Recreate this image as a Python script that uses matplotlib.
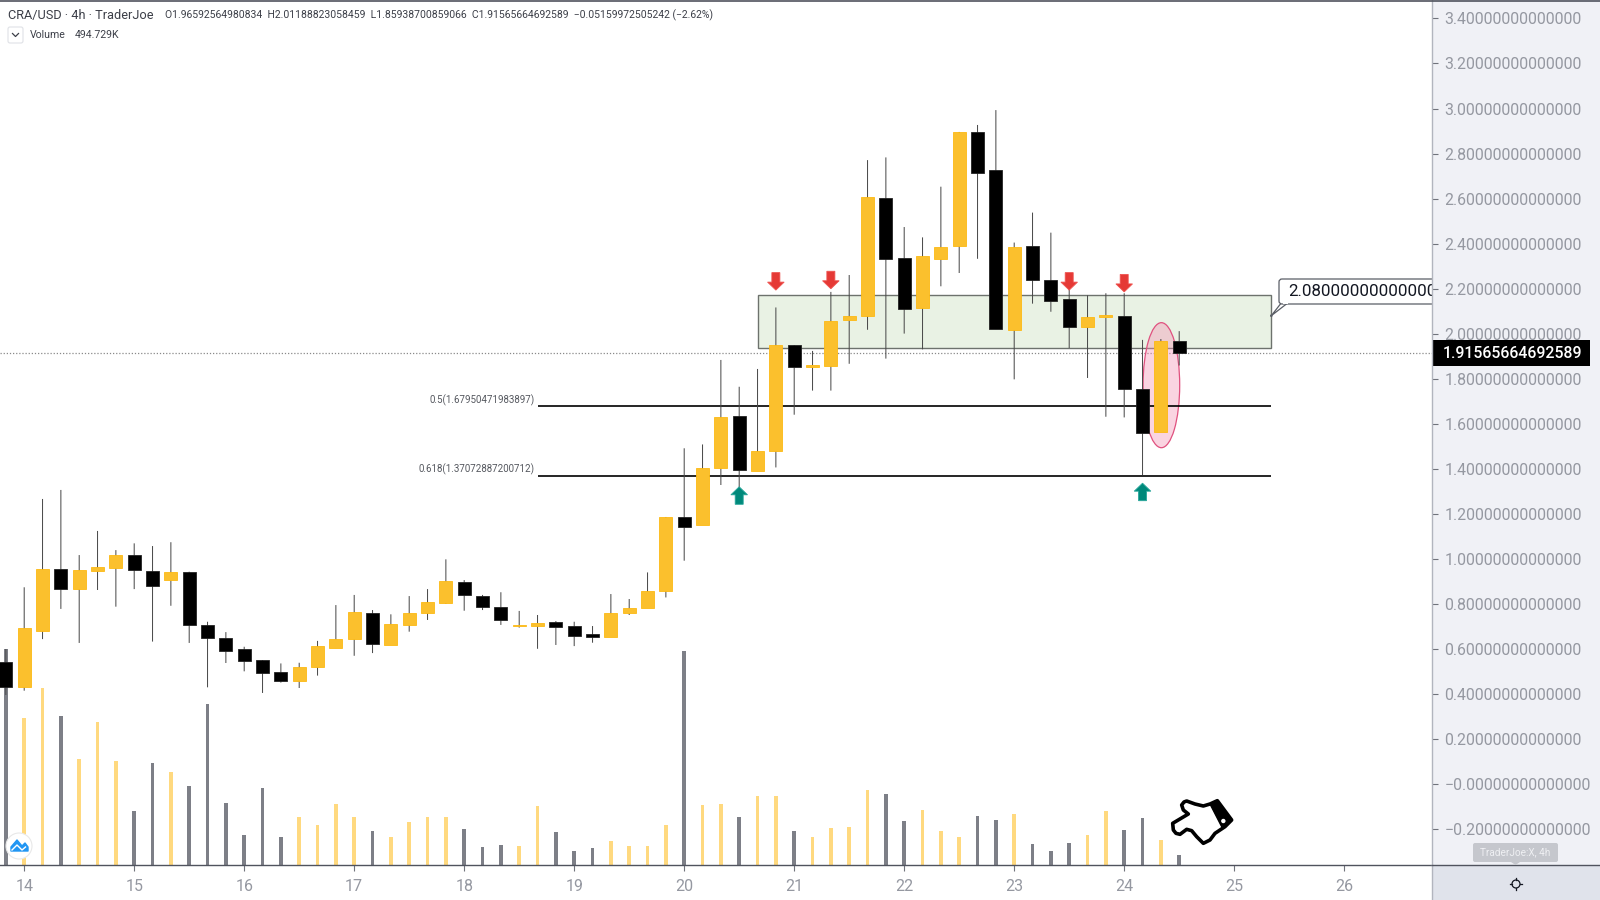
#!/usr/bin/env python3
# -*- coding: utf-8 -*-

import matplotlib
matplotlib.use('Agg')
import matplotlib.pyplot as plt
from matplotlib.patches import Rectangle, Ellipse, Polygon, Circle, FancyBboxPatch
from matplotlib.transforms import Affine2D, blended_transform_factory

plt.rcParams['font.family'] = ['Roboto', 'DejaVu Sans']

# 4h candles, first one is at day 13.83
first_day = 13 + 5 / 6

# body top, body bottom, high, low
body_top = [0.545, 0.696, 0.958, 0.958, 0.952, 0.966, 1.018, 1.018, 0.947, 0.944,
            0.944, 0.708, 0.651, 0.600, 0.552, 0.497, 0.521, 0.614, 0.645, 0.765,
            0.762, 0.710, 0.762, 0.810, 0.903, 0.898, 0.836, 0.787, 0.707, 0.718,
            0.722, 0.703, 0.666, 0.759, 0.784, 0.858, 1.187, 1.187, 1.406, 1.631,
            1.635, 1.480, 1.950, 1.950, 1.862, 2.057, 2.079, 2.607, 2.604, 2.338,
            2.345, 2.385, 2.896, 2.896, 2.727, 2.385, 2.390, 2.239, 2.153, 2.075,
            2.083, 2.079, 1.757, 1.968, 1.96592564980834]
body_bot = [0.431, 0.431, 0.682, 0.867, 0.867, 0.949, 0.961, 0.952, 0.882, 0.907,
            0.706, 0.650, 0.594, 0.549, 0.495, 0.460, 0.460, 0.521, 0.605, 0.647,
            0.623, 0.620, 0.709, 0.762, 0.807, 0.839, 0.786, 0.731, 0.702, 0.702,
            0.697, 0.660, 0.653, 0.656, 0.761, 0.783, 0.857, 1.143, 1.153, 1.406,
            1.396, 1.391, 1.480, 1.853, 1.853, 1.857, 2.063, 2.078, 2.332, 2.110,
            2.116, 2.334, 2.391, 2.714, 2.021, 2.018, 2.239, 2.144, 2.032, 2.032,
            2.075, 1.755, 1.560, 1.564, 1.91565664692589]
high = [0.601, 0.875, 1.267, 1.307, 1.018, 1.125, 1.040, 1.070, 1.058, 1.075,
        0.944, 0.722, 0.676, 0.611, 0.552, 0.537, 0.540, 0.637, 0.796, 0.841,
        0.774, 0.755, 0.836, 0.867, 0.999, 0.907, 0.841, 0.853, 0.770, 0.752,
        0.725, 0.722, 0.703, 0.845, 0.823, 0.941, 1.187, 1.492, 1.509, 1.884,
        1.765, 1.844, 2.117, 1.950, 1.924, 2.186, 2.261, 2.771, 2.783, 2.474,
        2.428, 2.653, 2.896, 2.927, 2.993, 2.405, 2.538, 2.449, 2.217, 2.171,
        2.180, 2.180, 1.973, 1.977, 2.01188823058459]
low = [0.397, 0.416, 0.645, 0.779, 0.628, 0.863, 0.789, 0.867, 0.634, 0.793,
       0.628, 0.431, 0.539, 0.502, 0.406, 0.452, 0.428, 0.483, 0.605, 0.571,
       0.583, 0.620, 0.678, 0.730, 0.801, 0.771, 0.774, 0.708, 0.696, 0.602,
       0.619, 0.614, 0.629, 0.656, 0.752, 0.783, 0.830, 0.993, 1.153, 1.329,
       1.285, 1.391, 1.407, 1.641, 1.748, 1.748, 1.867, 2.018, 1.890, 2.001,
       1.931, 2.211, 2.270, 2.333, 2.021, 1.798, 2.134, 2.098, 1.937, 1.804,
       1.632, 1.629, 1.373, 1.564, 1.85938700859066]
# 1 = yellow (up), 0 = black (down)
up = [0, 1, 1, 0, 1, 1, 1, 0, 0, 1,
      0, 0, 0, 0, 0, 0, 1, 1, 1, 1,
      0, 1, 1, 1, 1, 0, 0, 0, 1, 1,
      0, 0, 0, 1, 1, 1, 1, 0, 1, 1,
      0, 1, 1, 0, 1, 1, 1, 1, 0, 0,
      1, 1, 1, 0, 0, 1, 0, 0, 0, 1,
      1, 0, 0, 1, 0]
# volume in K
volume = [10384, 7056, 8496, 7168, 5088, 6880, 5008, 2576, 4896, 4448,
          3808, 7744, 2976, 1456, 3696, 1344, 2288, 1936, 2944, 2288,
          1616, 1328, 2064, 2288, 2288, 1728, 864, 976, 896, 2816,
          1584, 688, 816, 1136, 896, 928, 1936, 10288, 2896, 2944,
          2304, 3328, 3328, 1616, 1328, 1776, 1840, 3616, 3424, 2096,
          2656, 1648, 1344, 2368, 2176, 2464, 1024, 688, 1056, 1456,
          2608, 1696, 2256, 1216, 494.729]

price_ticks = [3.4, 3.2, 3.0, 2.8, 2.6, 2.4, 2.2, 2.0, 1.8, 1.6, 1.4, 1.2, 1.0,
               0.8, 0.6, 0.4, 0.2, 0.0, -0.2]
price_labels = ['3.40000000000000', '3.20000000000000', '3.00000000000000',
                '2.80000000000000', '2.60000000000000', '2.40000000000000',
                '2.20000000000000', '2.00000000000000', '1.80000000000000',
                '1.60000000000000', '1.40000000000000', '1.20000000000000',
                '1.00000000000000', '0.80000000000000', '0.60000000000000',
                '0.40000000000000', '0.20000000000000', '\u22120.00000000000000',
                '\u22120.20000000000000']
day_ticks = [14, 15, 16, 17, 18, 19, 20, 21, 22, 23, 24, 25, 26]

last_price = 1.91565664692589
fib_levels = [1.67950471983897, 1.37072887200712]
fib_labels = ['0.5(1.67950471983897)', '0.618(1.37072887200712)']
fib_start, fib_end = 20 + (538 - 684.2) / 110, 25.337
zone = [20.668, 25.337, 1.939, 2.171]  # day from, day to, price from, price to
# arrow tips
down_arrows = [(20.8333, 2.194), (21.3333, 2.200), (23.5, 2.194), (24.0, 2.186)]
up_arrows = [(20.5, 1.321), (24.1667, 1.337)]

PX_X = 1 / 110    # day per pixel
PX_Y = 1 / 225.3  # price per pixel
YELLOW = '#fbc02d'
TICK_COL = '#9598a1'
PANE = '#f0f1f6'

fig = plt.figure(figsize=(16, 9), dpi=100, facecolor='white')
# pixel coordinates with origin top left, for the icons and panes
px = Affine2D().scale(1 / 1600, -1 / 900).translate(0, 1) + fig.transFigure

fig.patches.append(Rectangle((1432, 0), 168, 900, transform=px, fc=PANE, ec='none'))
fig.patches.append(Rectangle((1432, 865), 168, 35, transform=px, fc='#e0e3eb', ec='none'))

pos = [0, 35 / 900, 1432 / 1600, 865 / 900]
ax_vol = fig.add_axes(pos, zorder=1)
ax = fig.add_axes(pos, zorder=2)
ax.patch.set_alpha(0)

x_lim = (14 - 24.2 / 110, 14 + (1432 - 24.2) / 110)
days = [first_day + i / 6 for i in range(len(up))]

# volume
ax_vol.bar(days, volume, width=0.032,
           color=['#ffd97f' if u else '#7d7f87' for u in up], linewidth=0)
ax_vol.set_xlim(x_lim)
ax_vol.set_ylim(0, 865 * 48)
ax_vol.axis('off')

# zone, ellipse, lines below the candles
ax.add_patch(Rectangle((zone[0], zone[2]), zone[1] - zone[0], zone[3] - zone[2],
                       fc='#e9f2e4', ec='#6d726d', lw=1, zorder=1))
ax.axhline(last_price, color='#8a8a8a', lw=0.9, ls=(0, (1, 1.5)), zorder=1.5)
ax.add_patch(Ellipse((24.338, 1.772), 0.333, 0.555, fc='#f48fb1', alpha=0.38, ec='none', zorder=2))
ax.add_patch(Ellipse((24.338, 1.772), 0.333, 0.555, fc='none', ec='#e0517f', lw=0.9, zorder=2))
for lev in fib_levels:
    ax.plot([fib_start, fib_end], [lev, lev], color='black', lw=1.2, zorder=2.2,
            solid_capstyle='butt')
for lab, lev in zip(fib_labels, fib_levels):
    ax.text(fib_start - 3.5 * PX_X, lev + 6 * PX_Y, lab, ha='right', va='center',
            fontsize=7.05, color='#55585f', zorder=3)

# candles
wicks = ax.vlines(days, low, high, color='#484848', lw=0.72, zorder=3)
wicks.set_snap(False)
cols = [YELLOW if u else 'black' for u in up]
edges = ['#fdb913' if u else '#222222' for u in up]
ax.bar(days, [t - b for t, b in zip(body_top, body_bot)], bottom=body_bot, width=0.118,
       color=cols, edgecolor=edges, linewidth=0.6, zorder=4)


def draw_arrow(day, tip, direction, fc, ec):
    # direction 1: tip on top, -1: tip at the bottom
    hw, sw, hh, total = 8.3 * PX_X, 4 * PX_X, 8 * PX_Y, 17.5 * PX_Y
    s = -direction
    pts = [(day, tip), (day + hw, tip + s * hh), (day + sw, tip + s * hh),
           (day + sw, tip + s * total), (day - sw, tip + s * total),
           (day - sw, tip + s * hh), (day - hw, tip + s * hh)]
    ax.add_patch(Polygon(pts, closed=True, fc=fc, ec=ec, lw=0.6, zorder=5))


for d, v in down_arrows:
    draw_arrow(d, v, -1, '#e53935', '#ef5350')
for d, v in up_arrows:
    draw_arrow(d, v, 1, '#00897b', '#26a69a')

# callout, cut off by the price pane
ax.add_patch(Polygon([(1282, 302), (1271.3, 315.7), (1289, 302)], closed=True,
                     transform=px, fc='white', ec='#5a5e66', lw=0.9, zorder=6))
ax.add_patch(FancyBboxPatch((1281, 281), 170, 21, boxstyle='round,pad=2,rounding_size=3',
                            transform=px, fc='white', ec='#5a5e66', lw=0.9, zorder=6))
ax.add_patch(Rectangle((1283, 301), 5, 3, transform=px, fc='white', ec='none', zorder=6.5))
ax.add_patch(Circle((1271.3, 315.7), 1.3, transform=px, fc='#5a5e66', ec='none', zorder=7))
ax.text(1288, 292, '2.08000000000000', transform=px, fontsize=12.2, color='#131722',
        ha='left', va='center', zorder=7, clip_on=True)

ax.set_xlim(x_lim)
ax.set_ylim(3.4 - (865 - 18.4) * PX_Y, 3.4 + 18.4 * PX_Y)
for name in ['top', 'left', 'right']:
    ax.spines[name].set_visible(False)
ax.spines['bottom'].set_color('#50535e')
ax.spines['bottom'].set_linewidth(1)

ax.yaxis.tick_right()
ax.set_yticks(price_ticks)
ax.set_yticklabels(price_labels)
ax.set_xticks(day_ticks)
ax.set_xticklabels(day_ticks)
ax.tick_params(axis='y', length=4, width=0.8, color='#70737c', labelcolor=TICK_COL,
               labelsize=11.4, pad=5)
ax.tick_params(axis='x', length=4, width=0.8, color='#70737c', labelcolor=TICK_COL,
               labelsize=11.5, pad=6)

# last price box on the axis
box_tr = blended_transform_factory(ax.transAxes, ax.transData)
ax.add_patch(Rectangle((1, last_price - 13 * PX_Y), 158 / 1432, 26 * PX_Y, transform=box_tr,
                       fc='black', ec='none', clip_on=False, zorder=8))
ax.text(1443, 353, '1.91565664692589', transform=px, color='white', fontsize=11.4,
        fontweight='medium', ha='left', va='center', zorder=9)

# everything from here on goes over the axes
TOP = 10

# pane borders
fig.add_artist(plt.Line2D([1432, 1432], [0, 900], transform=px, color='#b2b5be', lw=1, zorder=TOP))
fig.add_artist(plt.Line2D([1432, 1600], [865, 865], transform=px, color='#50535e', lw=1, zorder=TOP))
fig.add_artist(plt.Line2D([0, 1600], [0.5, 0.5], transform=px, color='#50535e', lw=1.2, zorder=TOP))

# header
fig.text(7.5 / 1600, 1 - 15.5 / 900, 'CRA/USD \u00b7 4h \u00b7 TraderJoe', fontsize=9.2,
         color='#3c3f48', ha='left', va='center')
fig.text(165 / 1600, 1 - 15.5 / 900,
         'O1.96592564980834  H2.01188823058459  L1.85938700859066  C1.91565664692589'
         '  \u22120.05159972505242 (\u22122.62%)',
         fontsize=7.45, color='#3c3f48', ha='left', va='center')
fig.text(30 / 1600, 1 - 35 / 900, 'Volume', fontsize=7.6, color='#3c3f48', ha='left', va='center')
fig.text(75 / 1600, 1 - 35 / 900, '494.729K', fontsize=7.6, color='#3c3f48', ha='left', va='center')
fig.add_artist(FancyBboxPatch((8, 27), 15, 16, boxstyle='round,pad=0,rounding_size=2', transform=px,
                              fc='white', ec='#dfe1e6', lw=0.8, zorder=TOP))
fig.add_artist(plt.Line2D([12.5, 15.5, 18.5], [33.5, 36.5, 33.5], transform=px,
                          color='#3c3f48', lw=0.9, zorder=TOP + 1))

# logo bottom left
fig.add_artist(Circle((19, 846), 13, transform=px, fc='white', ec='#e8e8e8', lw=0.8, zorder=TOP))
fig.add_artist(Polygon([(11, 851), (11, 847), (17, 840), (22, 846), (25, 843), (28, 847), (28, 851)],
                       closed=True, transform=px, fc='#2196f3', ec='#2196f3', lw=1,
                       joinstyle='round', zorder=TOP + 1))
fig.add_artist(plt.Line2D([12, 17, 22, 25.5], [850, 845, 850, 847], transform=px,
                          color='white', lw=1, zorder=TOP + 2))

# pointing hand
hand = [(65, 45), (72, 36), (80, 33), (105, 42), (130, 48), (150, 42), (172, 32), (215, 90), (195, 110),
        (165, 130), (150, 150), (130, 160), (110, 140), (95, 122), (80, 118), (60, 133), (48, 130),
        (40, 120), (38, 100), (85, 72), (70, 60)]
cuff = [(150, 42), (172, 32), (212, 90), (185, 110)]
to_px = lambda pts: [(1160 + a / 3, 790 + b / 3) for a, b in pts]
fig.add_artist(Polygon(to_px(hand), closed=True, transform=px, fc='white', ec='black', lw=2.6,
                       joinstyle='round', zorder=TOP))
fig.add_artist(Polygon(to_px(cuff), closed=True, transform=px, fc='black', ec='black', lw=1,
                       zorder=TOP + 1))
fig.add_artist(Circle((1160 + 190 / 3, 790 + 93 / 3), 2.2, transform=px, fc='white', ec='none',
                      zorder=TOP + 2))

# tooltip and gear in the corner
fig.add_artist(FancyBboxPatch((1473, 843), 85, 19, boxstyle='round,pad=0,rounding_size=2',
                              transform=px, fc='#c5c7cd', ec='none', zorder=TOP))
fig.add_artist(Polygon([(1511, 862), (1520, 862), (1515.5, 865)], closed=True, transform=px,
                       fc='#c5c7cd', ec='none', zorder=TOP))
fig.text(1515.5 / 1600, 1 - 852.5 / 900, 'TraderJoe:X, 4h', fontsize=7.2, color='#eff0f3',
         ha='center', va='center', zorder=TOP + 1)
fig.add_artist(Circle((1516, 884), 4, transform=px, fc='none', ec='#131722', lw=0.9, zorder=TOP))
for a, b, c, e in [(1516, 878, 1516, 880), (1516, 888, 1516, 890), (1510, 884, 1512, 884),
                   (1520, 884, 1522, 884)]:
    fig.add_artist(plt.Line2D([a, c], [b, e], transform=px, color='#131722', lw=0.9, zorder=TOP))

fig.savefig('out.png', dpi=100)
